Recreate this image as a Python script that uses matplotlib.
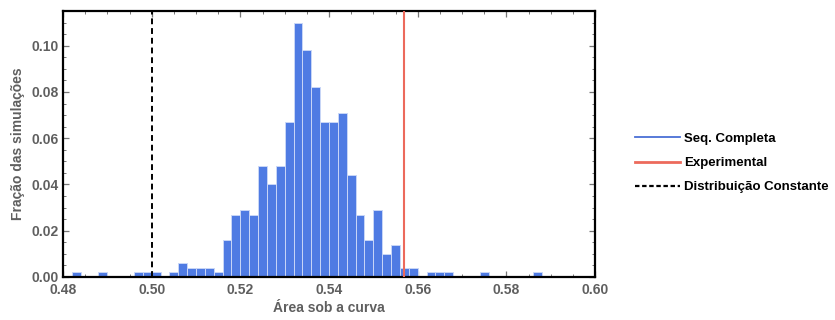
import matplotlib.pyplot as plt
from matplotlib.lines import Line2D
from matplotlib.ticker import MultipleLocator

# histogram bins (left edges, width 0.002) and fraction of simulations
bin_left = [0.482, 0.488, 0.496, 0.498, 0.500, 0.504, 0.506, 0.508, 0.510, 0.512,
            0.514, 0.516, 0.518, 0.520, 0.522, 0.524, 0.526, 0.528, 0.530, 0.532,
            0.534, 0.536, 0.538, 0.540, 0.542, 0.544, 0.546, 0.548, 0.550, 0.552,
            0.554, 0.556, 0.558, 0.562, 0.564, 0.566, 0.574, 0.586]
fraction = [0.002, 0.002, 0.002, 0.002, 0.002, 0.002, 0.006, 0.004, 0.004, 0.004,
            0.002, 0.016, 0.027, 0.029, 0.027, 0.048, 0.040, 0.048, 0.067, 0.110,
            0.098, 0.082, 0.067, 0.067, 0.071, 0.044, 0.027, 0.016, 0.029, 0.010,
            0.014, 0.004, 0.004, 0.002, 0.002, 0.002, 0.002, 0.002]
bin_width = 0.002

experimental = 0.557
constant = 0.50

labels = ['Seq. Completa', 'Experimental', 'Distribuição Constante']

plt.rcParams['font.family'] = ['Liberation Sans', 'DejaVu Sans']

gray = '#5f5f5f'
blue = '#4f7be3'
red = '#ec6a5c'

fig = plt.figure(figsize=(8.35, 3.2), dpi=100)
ax = fig.add_axes([63 / 835, 43 / 320, (595 - 63) / 835, (277 - 11) / 320])

ax.bar(bin_left, fraction, width=bin_width, align='edge', color=blue,
       edgecolor='#c9d6f7', linewidth=0.7, zorder=2)
ax.axvline(experimental, color=red, lw=1.5, zorder=3)
ax.axvline(constant, color='black', lw=1.4, ls=(0, (3, 2)), zorder=3)

ax.set_xlim(0.48, 0.60)
ax.set_ylim(0, 0.115)
ax.xaxis.set_major_locator(MultipleLocator(0.02))
ax.xaxis.set_minor_locator(MultipleLocator(0.005))
ax.yaxis.set_major_locator(MultipleLocator(0.02))
ax.yaxis.set_minor_locator(MultipleLocator(0.005))
ax.xaxis.set_major_formatter(lambda v, p: f'{v:.2f}')
ax.yaxis.set_major_formatter(lambda v, p: f'{v:.2f}')

ax.tick_params(which='both', direction='in', top=True, right=True, color='#777777')
ax.tick_params(which='major', length=4, width=0.9, labelsize=10, labelcolor=gray)
ax.tick_params(axis='x', which='major', pad=4.5)
ax.tick_params(axis='y', which='major', pad=3)
ax.tick_params(which='minor', length=2.5, width=0.7)
for lab in ax.get_xticklabels() + ax.get_yticklabels():
    lab.set_fontweight('bold')

for s in ax.spines.values():
    s.set_linewidth(1.6)
    s.set_color('black')

ax.set_xlabel('Área sob a curva', color=gray, fontsize=10, fontweight='bold', labelpad=3)
ax.set_ylabel('Fração das simulações', color=gray, fontsize=10, fontweight='bold', labelpad=5)

handles = [Line2D([], [], color='#4a6fd6', lw=1.3),
           Line2D([], [], color=red, lw=2),
           Line2D([], [], color='black', lw=1.6, ls=(0, (2, 1.2)))]
leg = fig.legend(handles, labels, loc='center left', bbox_to_anchor=(630 / 835, 157 / 320),
                 frameon=False, fontsize=9.5, handlelength=3.4, handletextpad=0.3,
                 labelspacing=0.9, borderaxespad=0)
for t in leg.get_texts():
    t.set_fontweight('bold')

fig.savefig('out.png', dpi=100)
